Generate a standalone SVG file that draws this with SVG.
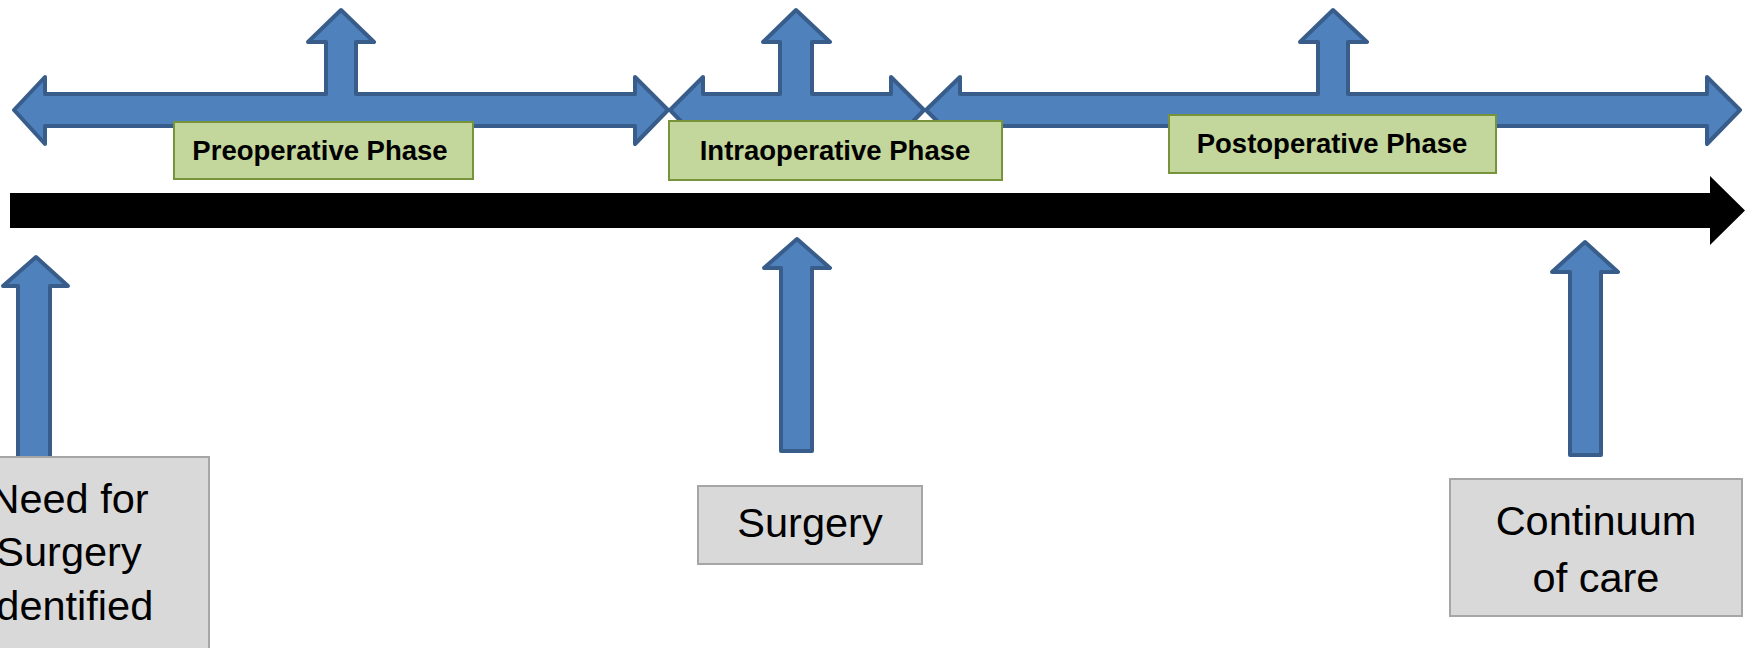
<svg xmlns="http://www.w3.org/2000/svg" width="1752" height="648" viewBox="0 0 1752 648">
  <style>
    .blue { fill: #4f81bd; stroke: #385d8a; stroke-width: 4; stroke-linejoin: round; }
    .phase { fill: #c3d69b; stroke: #77933c; stroke-width: 2; }
    .phase-text { font-family: "Liberation Sans", Arial, sans-serif; font-weight: bold; font-size: 27.5px; fill: #000; text-anchor: middle; }
    .event { fill: #d9d9d9; stroke: #a6a6a6; stroke-width: 2; }
    .event-text { font-family: "Liberation Sans", Arial, sans-serif; font-size: 41.5px; fill: #000; text-anchor: middle; }
  </style>
  <rect width="1752" height="648" fill="#ffffff"/>

  <!-- phase spans: left-right-up arrows -->
  <g id="phase-arrows">
    <path id="preop-span" class="blue" d="M14,110 L45,77 L45,94 L326,94 L326,42 L308,42 L341,10 L374,42 L356,42 L356,94 L635,94 L635,77 L668,110 L635,144 L635,126 L45,126 L45,144 Z"/>
    <path id="intra-span" class="blue" d="M670,110 L703,77 L703,94 L780,94 L780,42 L763,42 L796,10 L830,42 L812,42 L812,94 L891,94 L891,77 L924,110 L891,144 L891,126 L703,126 L703,144 Z"/>
    <path id="postop-span" class="blue" d="M926,110 L960,77 L960,94 L1318,94 L1318,42 L1300,42 L1333,10 L1367,42 L1348,42 L1348,94 L1707,94 L1707,77 L1740,110 L1707,144 L1707,126 L960,126 L960,144 Z"/>
  </g>

  <!-- timeline and pointer arrows -->
  <g id="connectors">
    <path id="timeline" fill="#000000" d="M10,193 L1710,193 L1710,176 L1745,210.5 L1710,245 L1710,228 L10,228 Z"/>
    <path id="need-pointer" class="blue" d="M18,470 L18,286 L3,286 L36,257 L68,286 L50,286 L50,470 Z"/>
    <path id="surgery-pointer" class="blue" d="M781,451 L781,268 L764,268 L797,239 L830,268 L812,268 L812,451 Z"/>
    <path id="continuum-pointer" class="blue" d="M1570,455 L1570,272 L1552,272 L1585,242 L1618,272 L1601,272 L1601,455 Z"/>
  </g>

  <!-- phase labels -->
  <g id="preop-label">
    <rect class="phase" x="174" y="122" width="299" height="57"/>
    <text class="phase-text" x="320" y="160">Preoperative Phase</text>
  </g>
  <g id="intra-label">
    <rect class="phase" x="669" y="121" width="333" height="59"/>
    <text class="phase-text" x="835" y="160">Intraoperative Phase</text>
  </g>
  <g id="postop-label">
    <rect class="phase" x="1169" y="115" width="327" height="58"/>
    <text class="phase-text" x="1332" y="153">Postoperative Phase</text>
  </g>

  <!-- events on the timeline -->
  <g id="need-event">
    <rect class="event" x="-90" y="457" width="299" height="250"/>
    <text class="event-text" x="69" y="513">Need for</text>
    <text class="event-text" x="69" y="566">Surgery</text>
    <text class="event-text" x="69" y="620">Identified</text>
  </g>
  <g id="surgery-event">
    <rect class="event" x="698" y="486" width="224" height="78"/>
    <text class="event-text" x="810" y="537">Surgery</text>
  </g>
  <g id="continuum-event">
    <rect class="event" x="1450" y="479" width="292" height="137"/>
    <text class="event-text" x="1596" y="535">Continuum</text>
    <text class="event-text" x="1596" y="592">of care</text>
  </g>
</svg>
